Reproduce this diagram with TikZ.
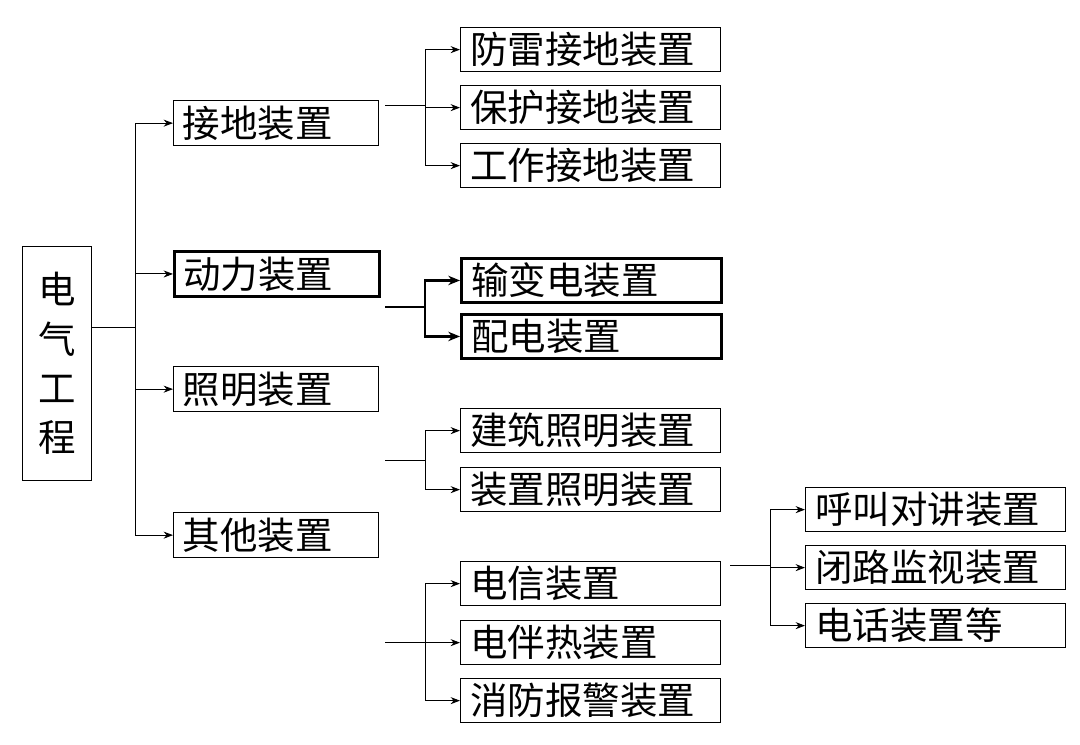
\documentclass[tikz,border=0pt]{standalone}
\usepackage{fontspec}
\setmainfont{Noto Sans CJK SC}
\usetikzlibrary{arrows.meta}

\tikzset{
  box/.style={draw, thick, inner sep=0pt, align=left, anchor=north west,
    font=\fontsize{32}{36}\selectfont},
  mid/.style={box, minimum width=6.15cm, minimum height=1.36cm, text width=5.6cm},
  wide/.style={box, minimum width=7.8cm, minimum height=1.33cm, text width=7.2cm},
  bold/.style={line width=2.2pt},
  link/.style={thick, -{Stealth[length=8pt,width=6pt]}},
  blink/.style={line width=2.2pt, -{Stealth[length=10pt,width=8pt]}}
}

\begin{document}
\begin{tikzpicture}[x=0.03cm, y=-0.03cm]
\useasboundingbox (0,0) rectangle (1080,744);

% root
\node[box, minimum width=2.07cm, minimum height=7.02cm, text width=2.07cm, align=center,
  font=\fontsize{32}{42}\selectfont] (root) at (22,246) {电\\气\\工\\程};

% first level
\node[mid] (ground) at (173,100) {接地装置};
\node[mid, bold] (power) at (173,250) {动力装置};
\node[mid] (light) at (173,366) {照明装置};
\node[mid] (other) at (173,512) {其他装置};

% second level
\node[wide] (g1) at (460,27) {防雷接地装置};
\node[wide] (g2) at (460,85) {保护接地装置};
\node[wide] (g3) at (460,143) {工作接地装置};
\node[wide, bold] (p1) at (460,257) {输变电装置};
\node[wide, bold] (p2) at (460,313) {配电装置};
\node[wide] (l1) at (460,408) {建筑照明装置};
\node[wide] (l2) at (460,467) {装置照明装置};
\node[wide] (o1) at (460,561) {电信装置};
\node[wide] (o2) at (460,620) {电伴热装置};
\node[wide] (o3) at (460,678) {消防报警装置};

% third level
\node[wide] (t1) at (805,487) {呼叫对讲装置};
\node[wide] (t2) at (805,545) {闭路监视装置};
\node[wide] (t3) at (805,603) {电话装置等};

% trunk
\coordinate (rj) at (135,327);
\draw[thick] (root.east |- rj) -- (rj);
\foreach \n in {ground,power,light,other}
  \draw[link] (rj) |- (\n.west);

% groups
\coordinate (gs) at (385,105);
\coordinate (gj) at (425,105);
\draw[thick] (gs) -- (gj);
\foreach \n in {g1,g2,g3}
  \draw[link] (gj) |- (\n.west);

\coordinate (ps) at (385,307);
\coordinate (pj) at (425,307);
\draw[bold] (ps) -- (pj);
\foreach \n in {p1,p2}
  \draw[blink] (pj) |- (\n.west);

\coordinate (ls) at (385,460);
\coordinate (lj) at (425,460);
\draw[thick] (ls) -- (lj);
\foreach \n in {l1,l2}
  \draw[link] (lj) |- (\n.west);

\coordinate (os) at (385,642);
\coordinate (oj) at (425,642);
\draw[thick] (os) -- (oj);
\foreach \n in {o1,o2,o3}
  \draw[link] (oj) |- (\n.west);

\coordinate (ts) at (730,565);
\coordinate (tj) at (770,565);
\draw[thick] (ts) -- (tj);
\foreach \n in {t1,t2,t3}
  \draw[link] (tj) |- (\n.west);
\end{tikzpicture}
\end{document}
